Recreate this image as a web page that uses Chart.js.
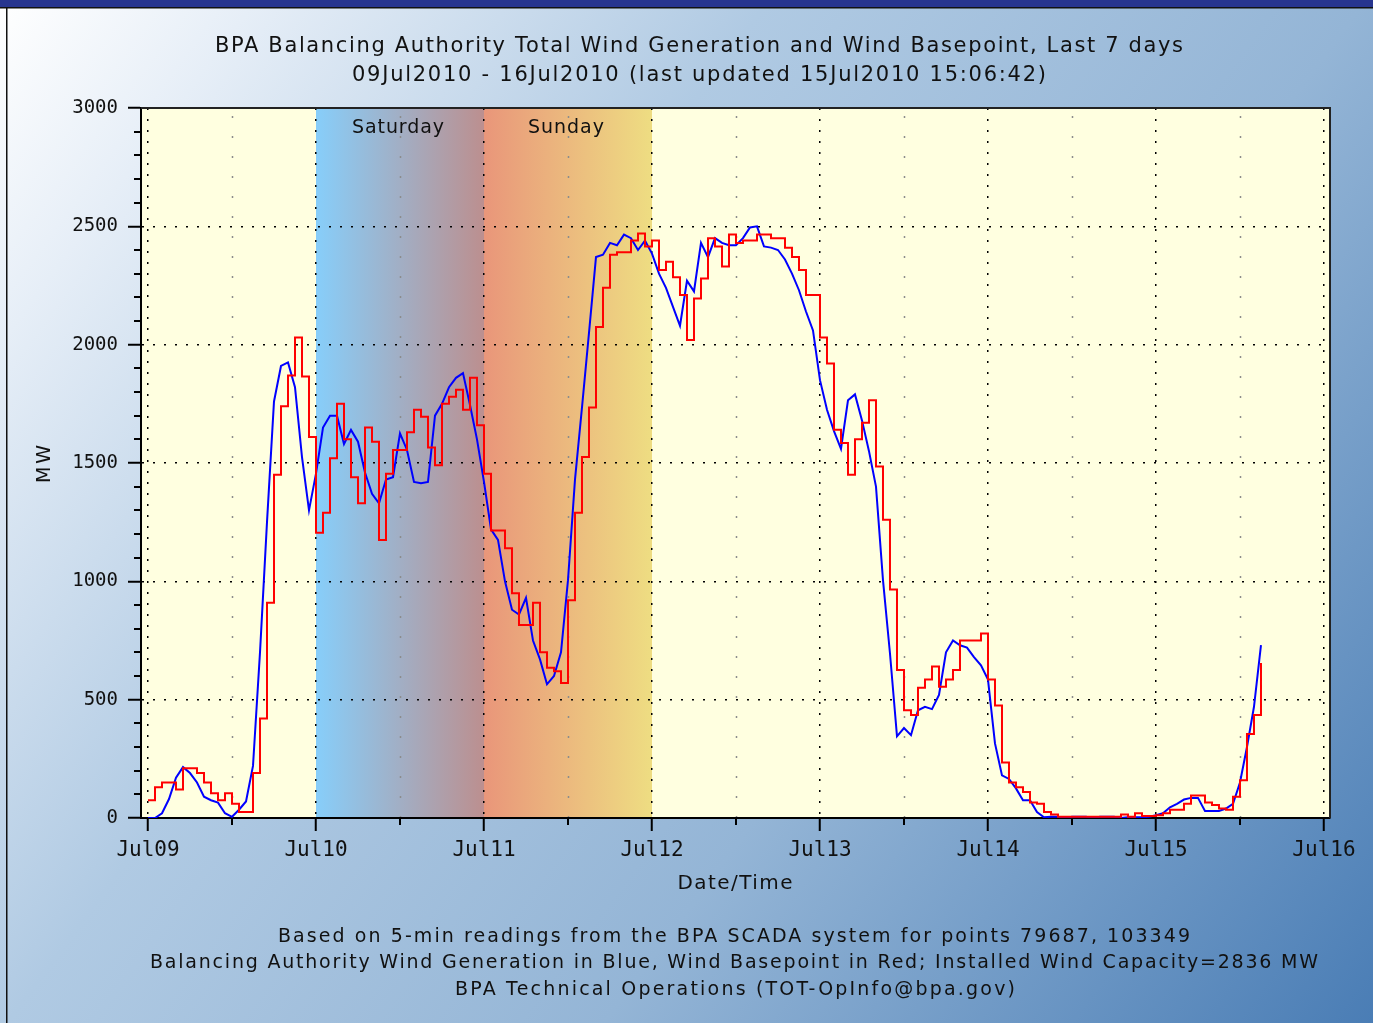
<!DOCTYPE html>
<html>
<head>
<meta charset="utf-8">
<title>BPA Wind Generation, Last 7 days</title>
<script src="https://cdn.jsdelivr.net/npm/chart.js@4.4.1/dist/chart.umd.min.js"></script>
<style>
  html, body { margin: 0; padding: 0; background: #fff; }
  canvas { display: block; }
</style>
</head>
<body>
<canvas id="windChart" width="1373" height="1023"></canvas>
<script>
// tick labels
var dayLabels = ["Jul09", "Jul10", "Jul11", "Jul12", "Jul13", "Jul14", "Jul15", "Jul16"];
var yTicks = [0, 500, 1000, 1500, 2000, 2500, 3000];

// weekend days (index into dayLabels) and their names
var weekendDays = [1, 2];
var weekendNames = ["Saturday", "Sunday"];

// hourly readings from 09Jul2010 00:00, MW
var blueMW = [
  0, 0, 20, 80, 170, 215, 190, 150, 90, 75,
  65, 20, 5, 35, 70, 220, 700, 1250, 1760, 1910,
  1925, 1820, 1525, 1300, 1455, 1650, 1700, 1700, 1580, 1640,
  1590, 1460, 1370, 1330, 1430, 1440, 1625, 1555, 1420, 1415,
  1420, 1700, 1750, 1820, 1860, 1880, 1745, 1600, 1420, 1220,
  1175, 1000, 880, 860, 930, 750, 670, 565, 600, 700,
  1005, 1430, 1735, 2050, 2370, 2380, 2430, 2420, 2465, 2450,
  2400, 2440, 2385, 2300, 2240, 2160, 2080, 2270, 2225, 2430,
  2370, 2450, 2430, 2420, 2420, 2450, 2495, 2500, 2415, 2410,
  2400, 2360, 2300, 2230, 2140, 2060, 1850, 1725, 1635, 1560,
  1765, 1790, 1680, 1550, 1400, 1005, 695, 345, 380, 350,
  455, 470, 460, 520, 700, 750, 730, 720, 680, 645,
  585, 315, 180, 165, 125, 75, 75, 25, 3, 5,
  5, 0, 5, 5, 5, 0, 5, 5, 5, 0,
  3, 3, 3, 5, 12, 20, 45, 60, 78, 85,
  85, 30, 30, 30, 40, 60, 150, 300, 470, 730
];

var redMW = [
  75, 130, 150, 150, 120, 210, 210, 190, 150, 105,
  75, 105, 60, 25, 25, 190, 420, 910, 1450, 1740,
  1870, 2030, 1865, 1610, 1205, 1290, 1520, 1750, 1600, 1440,
  1330, 1650, 1590, 1175, 1455, 1555, 1555, 1630, 1725, 1695,
  1565, 1490, 1750, 1780, 1810, 1725, 1860, 1660, 1455, 1215,
  1215, 1140, 950, 815, 815, 910, 700, 635, 620, 570,
  920, 1290, 1525, 1735, 2075, 2240, 2380, 2390, 2390, 2440,
  2470, 2415, 2440, 2315, 2350, 2285, 2210, 2020, 2195, 2280,
  2450, 2415, 2330, 2465, 2430, 2440, 2440, 2465, 2465, 2450,
  2450, 2410, 2370, 2315, 2210, 2210, 2030, 1920, 1640, 1585,
  1450, 1600, 1670, 1765, 1485, 1260, 965, 625, 455, 435,
  550, 585, 640, 555, 585, 625, 750, 750, 750, 780,
  585, 475, 235, 150, 130, 110, 65, 60, 25, 15,
  5, 5, 5, 5, 5, 5, 5, 5, 5, 15,
  5, 20, 8, 8, 12, 20, 35, 35, 60, 95,
  95, 65, 55, 40, 35, 90, 160, 355, 435, 655
];

var titleLines = [
  "BPA Balancing Authority Total Wind Generation and Wind Basepoint, Last 7 days",
  "09Jul2010 - 16Jul2010 (last updated 15Jul2010 15:06:42)"
];
var noteLines = [
  "Based on 5-min readings from the BPA SCADA system for points 79687, 103349",
  "Balancing Authority Wind Generation in Blue, Wind Basepoint in Red; Installed Wind Capacity=2836 MW",
  "BPA Technical Operations (TOT-OpInfo@bpa.gov)"
];

function toPoints(arr) {
  return arr.map(function(v, i) { return {x: i, y: v}; });
}

// draw a text centred on cx and stretched to a given width by letter spacing
function fitText(ctx, text, cx, cy, width, font) {
  ctx.save();
  ctx.font = font;
  ctx.textAlign = 'left';
  ctx.textBaseline = 'middle';
  ctx.fillStyle = '#111';
  if ('letterSpacing' in ctx) {
    ctx.letterSpacing = '0px';
    var w = ctx.measureText(text).width;
    ctx.letterSpacing = ((width - w) / (text.length - 1)) + 'px';
    ctx.fillText(text, cx - width / 2, cy);
  } else {
    var w2 = ctx.measureText(text).width;
    ctx.translate(cx - width / 2, cy);
    ctx.scale(width / w2, 1);
    ctx.fillText(text, 0, 0);
  }
  ctx.restore();
}

var backdrop = {
  id: 'backdrop',
  beforeDraw: function(chart) {
    var ctx = chart.ctx, a = chart.chartArea;
    var xs = chart.scales.x, ys = chart.scales.y;
    var W = chart.width, H = chart.height;
    ctx.save();

    // page gradient
    var g = ctx.createLinearGradient(0, 0, W, H);
    g.addColorStop(0, '#ffffff');
    g.addColorStop(0.12, '#e6eef7');
    g.addColorStop(0.36, '#b0cae3');
    g.addColorStop(0.64, '#94b5d6');
    g.addColorStop(1, '#4a7db5');
    ctx.fillStyle = g;
    ctx.fillRect(0, 0, W, H);

    // window frame
    ctx.fillStyle = '#27358f';
    ctx.fillRect(0, 0, W, 7);
    ctx.fillStyle = '#111';
    ctx.fillRect(0, 7, W, 1.5);
    ctx.fillRect(6, 8, 1.5, H);

    // plot background
    ctx.fillStyle = '#ffffe0';
    ctx.fillRect(a.left, a.top, a.right - a.left, a.bottom - a.top);

    // weekend bands
    var bandColors = [['#87cefa', '#bc8f8f'], ['#e9967a', '#eedd82']];
    weekendDays.forEach(function(d, i) {
      var x0 = xs.getPixelForValue(d * 24), x1 = xs.getPixelForValue((d + 1) * 24);
      var bg = ctx.createLinearGradient(x0, 0, x1, 0);
      bg.addColorStop(0, bandColors[i][0]);
      bg.addColorStop(1, bandColors[i][1]);
      ctx.fillStyle = bg;
      ctx.fillRect(x0, a.top, x1 - x0, a.bottom - a.top);
    });

    // half-day grid, grey dots
    ctx.strokeStyle = '#8c8c8c';
    ctx.lineWidth = 1.5;
    ctx.setLineDash([2, 18]);
    for (var h = 12; h < 168; h += 24) {
      var px = Math.round(xs.getPixelForValue(h)) + 0.5;
      ctx.beginPath();
      ctx.moveTo(px, a.top + 8);
      ctx.lineTo(px, a.bottom);
      ctx.stroke();
    }

    // minor ticks
    ctx.setLineDash([]);
    ctx.strokeStyle = '#000';
    ctx.lineWidth = 2;
    for (var hh = 12; hh < 168; hh += 24) {
      var tx = Math.round(xs.getPixelForValue(hh));
      ctx.beginPath();
      ctx.moveTo(tx, a.bottom);
      ctx.lineTo(tx, a.bottom + 7);
      ctx.stroke();
    }
    for (var v = 100; v < 3000; v += 100) {
      if (v % 500 === 0) continue;
      var ty = Math.round(ys.getPixelForValue(v));
      ctx.beginPath();
      ctx.moveTo(a.left - 7, ty);
      ctx.lineTo(a.left, ty);
      ctx.stroke();
    }
    ctx.restore();
  },
  afterDraw: function(chart) {
    var ctx = chart.ctx, a = chart.chartArea, xs = chart.scales.x;
    ctx.save();
    // top and right frame of the plot
    ctx.strokeStyle = '#222';
    ctx.lineWidth = 2;
    ctx.beginPath();
    ctx.moveTo(a.left, a.top);
    ctx.lineTo(a.right, a.top);
    ctx.lineTo(a.right, a.bottom);
    ctx.stroke();
    ctx.restore();

    weekendDays.forEach(function(d, i) {
      var cx = xs.getPixelForValue(d * 24 + 12) - 2;
      fitText(ctx, weekendNames[i], cx, 128, i === 0 ? 92 : 76, '19px "DejaVu Sans"');
    });

    fitText(ctx, titleLines[0], 699, 47, 968, '21px "DejaVu Sans"');
    fitText(ctx, titleLines[1], 699, 76, 694, '21px "DejaVu Sans"');

    fitText(ctx, "Date/Time", 735, 884, 115, '20px "DejaVu Sans"');
    ctx.save();
    ctx.translate(45, 464);
    ctx.rotate(-Math.PI / 2);
    fitText(ctx, "MW", 0, 0, 38, '19px "DejaVu Sans"');
    ctx.restore();

    fitText(ctx, noteLines[0], 734, 937, 912, '19px "DejaVu Sans"');
    fitText(ctx, noteLines[1], 734, 963, 1168, '19px "DejaVu Sans"');
    fitText(ctx, noteLines[2], 735, 990, 560, '19px "DejaVu Sans"');
  }
};

new Chart(document.getElementById('windChart'), {
  type: 'line',
  data: {
    datasets: [
      {
        label: 'Wind Basepoint',
        data: toPoints(redMW),
        borderColor: '#ff0000',
        borderWidth: 2,
        stepped: true,
        pointRadius: 0,
        fill: false
      },
      {
        label: 'Wind Generation',
        data: toPoints(blueMW),
        borderColor: '#0000ff',
        borderWidth: 2,
        tension: 0,
        pointRadius: 0,
        fill: false
      }
    ]
  },
  options: {
    responsive: false,
    animation: false,
    devicePixelRatio: 1,
    layout: { padding: { left: 0, right: 43, top: 108, bottom: 145 } },
    plugins: {
      legend: { display: false },
      title: { display: false },
      tooltip: { enabled: false }
    },
    scales: {
      x: {
        type: 'linear',
        min: -1,
        max: 168.86,
        afterBuildTicks: function(scale) {
          scale.ticks = dayLabels.map(function(d, i) { return {value: i * 24}; });
        },
        afterFit: function(scale) { scale.height = 60; },
        ticks: {
          autoSkip: false,
          maxRotation: 0,
          padding: 7,
          color: '#111',
          font: { family: 'DejaVu Sans Mono', size: 21 },
          callback: function(v) { return dayLabels[Math.round(v / 24)]; }
        },
        grid: { color: '#000', lineWidth: 1.5, tickLength: 13, tickWidth: 2, tickColor: '#000' },
        border: { display: true, color: '#000', width: 2, dash: [2, 9] }
      },
      y: {
        min: 0,
        max: 3000,
        afterBuildTicks: function(scale) {
          scale.ticks = yTicks.map(function(v) { return {value: v}; });
        },
        afterFit: function(scale) { scale.width = 141; },
        ticks: {
          padding: 10,
          color: '#111',
          font: { family: 'DejaVu Sans Mono', size: 19 },
          callback: function(v) { return String(v); }
        },
        grid: { color: '#000', lineWidth: 1.5, tickLength: 13, tickWidth: 2, tickColor: '#000' },
        border: { display: true, color: '#000', width: 2, dash: [2, 9] }
      }
    }
  },
  plugins: [backdrop]
});
</script>
</body>
</html>
